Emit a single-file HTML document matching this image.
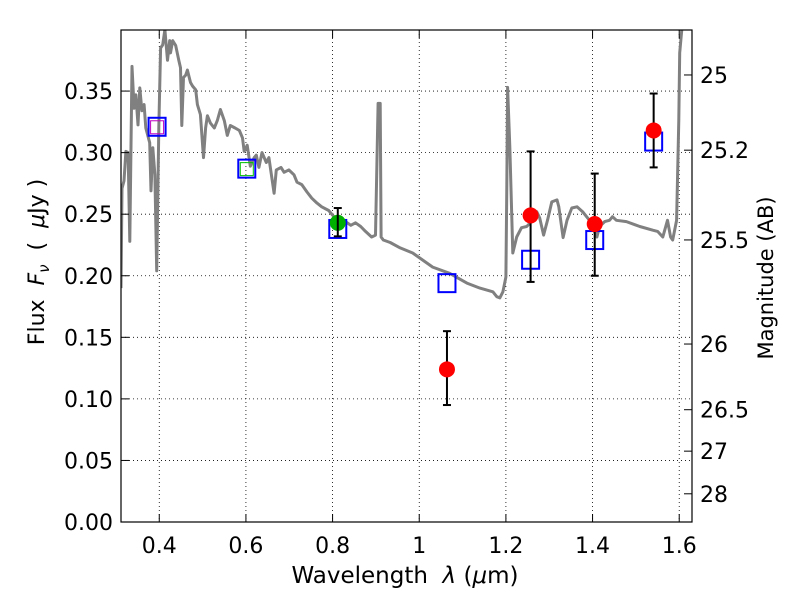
<!DOCTYPE html>
<html><head><meta charset="utf-8"><style>
html,body{margin:0;padding:0;background:#fff;}
svg text{font-family:"DejaVu Sans","Liberation Sans",sans-serif;fill:#000;}
</style></head><body>
<svg id="chart" width="800" height="600" xmlns="http://www.w3.org/2000/svg">
<defs><clipPath id="clip"><rect x="121" y="30" width="571" height="492"/></clipPath></defs>
<rect x="0" y="0" width="800" height="600" fill="#fff"/>
<g id="grid"></g>
<g id="spec" clip-path="url(#clip)"></g>
<g id="marks" clip-path="url(#clip)"></g>
<rect x="121" y="30" width="571" height="492" fill="none" stroke="#000" stroke-width="1.2"/>
<g id="axes"></g>
<text x="405" y="583" font-size="23" text-anchor="middle">Wavelength&#160;&#160;<tspan font-style="italic">λ</tspan> (<tspan font-style="italic">μ</tspan>m)</text>
<text transform="translate(44,262) rotate(-90)" font-size="22" text-anchor="middle">Flux&#160;&#160;<tspan font-style="italic">F</tspan><tspan font-style="italic" font-size="15" dy="5">ν</tspan><tspan dy="-5">&#160;&#160;(&#160;&#160;</tspan><tspan font-style="italic">μ</tspan>Jy )</text>
<text transform="translate(773,278) rotate(-90)" font-size="21" text-anchor="middle">Magnitude (AB)</text>
</svg>
<script>
const xTicks=[0.4,0.6,0.8,1.0,1.2,1.4,1.6];
const xTickLabels=["0.4","0.6","0.8","1","1.2","1.4","1.6"];
const yTicks=[0,0.05,0.10,0.15,0.20,0.25,0.30,0.35];
const yTickLabels=["0.00","0.05","0.10","0.15","0.20","0.25","0.30","0.35"];
const magTicks=[25,25.2,25.5,26,26.5,27,28];
const magTickLabels=["25","25.2","25.5","26","26.5","27","28"];
const specWave=[0.3117,0.314,0.3186,0.323,0.328,0.332,0.337,0.342,0.346,0.351,0.355,0.360,0.365,0.369,0.378,0.381,0.385,0.390,0.394,0.399,0.403,0.408,0.413,0.415,0.419,0.424,0.426,0.431,0.438,0.445,0.449,0.452,0.456,0.461,0.465,0.472,0.477,0.484,0.488,0.495,0.502,0.507,0.511,0.518,0.527,0.534,0.541,0.550,0.557,0.564,0.575,0.585,0.592,0.596,0.603,0.610,0.619,0.624,0.630,0.637,0.647,0.653,0.665,0.670,0.681,0.688,0.699,0.711,0.718,0.729,0.741,0.752,0.764,0.775,0.791,0.803,0.814,0.830,0.842,0.853,0.865,0.876,0.890,0.899,0.905,0.910,0.912,0.917,0.933,0.956,0.985,1.031,1.070,1.110,1.140,1.170,1.179,1.186,1.193,1.200,1.202,1.204,1.209,1.216,1.225,1.236,1.248,1.259,1.271,1.278,1.287,1.296,1.306,1.318,1.322,1.332,1.341,1.352,1.364,1.377,1.393,1.410,1.416,1.428,1.439,1.446,1.455,1.478,1.509,1.539,1.550,1.562,1.573,1.580,1.585,1.594,1.599,1.601,1.606,1.612];
const specFlux=[0.190,0.271,0.277,0.301,0.300,0.228,0.370,0.336,0.347,0.3225,0.3526,0.334,0.339,0.320,0.308,0.269,0.304,0.282,0.204,0.320,0.385,0.3875,0.400,0.391,0.375,0.391,0.381,0.391,0.387,0.375,0.369,0.322,0.361,0.363,0.367,0.357,0.354,0.351,0.339,0.331,0.296,0.320,0.330,0.324,0.320,0.326,0.335,0.326,0.314,0.322,0.320,0.318,0.312,0.301,0.306,0.289,0.296,0.298,0.288,0.300,0.292,0.296,0.267,0.286,0.288,0.284,0.286,0.282,0.276,0.274,0.268,0.263,0.259,0.256,0.253,0.248,0.247,0.244,0.241,0.243,0.240,0.236,0.2315,0.233,0.340,0.340,0.2315,0.229,0.227,0.2226,0.2185,0.207,0.202,0.194,0.190,0.187,0.183,0.182,0.187,0.199,0.272,0.353,0.305,0.2185,0.2315,0.239,0.240,0.244,0.252,0.247,0.233,0.245,0.260,0.2616,0.256,0.231,0.245,0.255,0.256,0.252,0.245,0.2315,0.240,0.244,0.245,0.248,0.245,0.244,0.240,0.237,0.236,0.2315,0.245,0.2315,0.229,0.245,0.3266,0.381,0.40,0.45];
const modelWave=[0.395,0.602,0.812,1.064,1.257,1.405,1.541];
const modelFlux=[0.321,0.287,0.238,0.194,0.213,0.229,0.309];
const obsWave=[1.064,1.257,1.405,1.541];
const obsFlux=[0.124,0.249,0.242,0.318];
const obsLo=[0.095,0.195,0.200,0.288];
const obsHi=[0.155,0.301,0.283,0.348];
const greenWave=[0.812];
const greenFlux=[0.243];
const greenLo=[0.232];
const greenHi=[0.255];

const NS="http://www.w3.org/2000/svg";
const X0=0.3117,X1=1.6295,PX0=121,PX1=692,Y0=0,Y1=0.3996,PY0=522,PY1=30;
function sx(v){return PX0+(v-X0)/(X1-X0)*(PX1-PX0);}
function sy(v){return PY0-(v-Y0)/(Y1-Y0)*(PY0-PY1);}
function magToY(m){return sy(Math.pow(10,(23.9-m)/2.5));}
function mk(tag,attrs,parent){const e=document.createElementNS(NS,tag);for(const k in attrs)e.setAttribute(k,attrs[k]);parent.appendChild(e);return e;}
const grid=document.getElementById('grid'),axes=document.getElementById('axes'),spec=document.getElementById('spec'),marks=document.getElementById('marks');

xTicks.forEach((t,i)=>{
  const x=sx(t);
  const g=mk('line',{x1:x,x2:x,y1:PY1,y2:PY0,stroke:'#000','stroke-width':0.8,'stroke-dasharray':'1,3'},grid);
  
  
  const tk=mk('line',{x1:x,x2:x,y1:PY0,y2:PY0-8,stroke:'#000','stroke-width':1},axes);
  
  
  const tk2=mk('line',{x1:x,x2:x,y1:PY1,y2:PY1+8,stroke:'#000','stroke-width':1},axes);
  
  
  const lb=mk('text',{x:x,y:PY0+31,'font-size':22,'text-anchor':'middle'},axes);
  lb.textContent=xTickLabels[i];
  
  
});
yTicks.forEach((t,i)=>{
  const y=sy(t);
  const g=mk('line',{x1:PX0,x2:PX1,y1:y,y2:y,stroke:'#000','stroke-width':0.8,'stroke-dasharray':'1,3'},grid);
  
  
  const tk=mk('line',{x1:PX0,x2:PX0+8,y1:y,y2:y,stroke:'#000','stroke-width':1},axes);
  
  
  const lb=mk('text',{x:PX0-8,y:y+8,'font-size':22,'text-anchor':'end'},axes);
  lb.textContent=yTickLabels[i];
  
  
});
magTicks.forEach((m,i)=>{
  const y=magToY(m);
  const tk=mk('line',{x1:PX1,x2:PX1-8,y1:y,y2:y,stroke:'#000','stroke-width':1},axes);
  
  
  const lb=mk('text',{x:PX1+8,y:y+8,'font-size':22,'text-anchor':'start'},axes);
  lb.textContent=magTickLabels[i];
  
  
});

const pts=specWave.map((w,i)=>sx(w).toFixed(1)+','+sy(specFlux[i]).toFixed(1)).join(' ');
const pl=mk('polyline',{points:pts,fill:'none',stroke:'#808080','stroke-width':3,'stroke-linejoin':'round'},spec);



modelWave.forEach((w,i)=>{
  const x=sx(w),y=sy(modelFlux[i]);
  const r=mk('rect',{x:x-8.5,y:y-9,width:17,height:18,fill:'none',stroke:'#0000ff','stroke-width':2},marks);
  
  
});
const inner=[[0,'#c000c0'],[1,'#00c000']];
inner.forEach(([i,c])=>{
  const x=sx(modelWave[i]),y=sy(modelFlux[i]);
  const r=mk('rect',{x:x-6.5,y:y-6,width:13,height:13,fill:'none',stroke:c,'stroke-width':1},marks);
  
  
});
function errbar(w,lo,hi){
  const x=sx(w);
  const l=mk('line',{x1:x,x2:x,y1:sy(lo),y2:sy(hi),stroke:'#000','stroke-width':2},marks);
  
  
  [lo,hi].forEach(v=>{
    const c=mk('line',{x1:x-4,x2:x+4,y1:sy(v),y2:sy(v),stroke:'#000','stroke-width':2},marks);
    
    
  });
}
greenWave.forEach((w,i)=>{
  const c=mk('circle',{cx:sx(w),cy:sy(greenFlux[i]),r:8,fill:'#00b000'},marks);
  
  
  errbar(w,greenLo[i],greenHi[i]);
});
obsWave.forEach((w,i)=>{
  errbar(w,obsLo[i],obsHi[i]);
  const c=mk('circle',{cx:sx(w),cy:sy(obsFlux[i]),r:8,fill:'#ff0000'},marks);
  
  
});
</script>
</body></html>
